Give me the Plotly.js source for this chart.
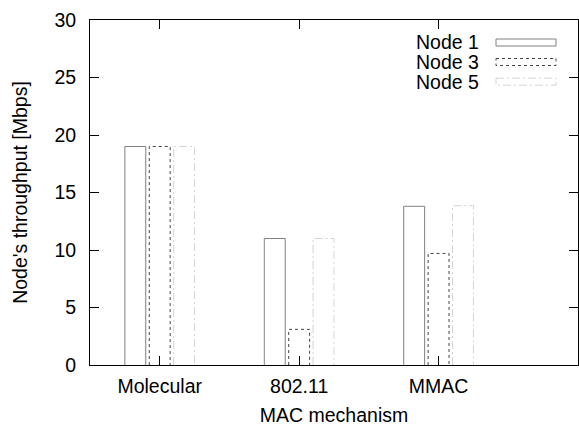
<!DOCTYPE html>
<html>
<head>
<meta charset="utf-8">
<script src="https://cdn.plot.ly/plotly-3.0.1.min.js"></script>
<style>html,body{margin:0;padding:0;background:#fff;}#chart{width:579px;height:426px;}</style>
</head>
<body>
<div id="chart"></div>
<script>
// Data
var categories = ["Molecular", "802.11", "MMAC"];
var seriesNames = ["Node 1", "Node 3", "Node 5"];
var node1 = [19.0, 11.0, 13.8];
var node3 = [19.0, 3.1, 9.7];
var node5 = [19.0, 11.0, 13.85];
var yTicks = [0, 5, 10, 15, 20, 25, 30];

// Styles
var series = [node1, node3, node5];
var colors = ["#808080", "#444444", "#d4d4d4"];
var dashes = ["solid", "3px,3px", "8px,3px,2px,3px"];
var offsets = [-0.25, -0.075, 0.10];
var barW = 0.15;
var FS = 19.5;

function outline(vals, off) {
  var xs = [], ys = [];
  for (var i = 0; i < vals.length; i++) {
    var x0 = i + off, x1 = i + off + barW;
    xs.push(x0, x0, x1, x1, null);
    ys.push(0, vals[i], vals[i], 0, null);
  }
  return {x: xs, y: ys};
}

var traces = series.map(function (vals, k) {
  var o = outline(vals, offsets[k]);
  return {
    type: "scatter", mode: "lines", x: o.x, y: o.y, name: seriesNames[k],
    line: {color: colors[k], width: 1, dash: dashes[k]},
    connectgaps: false, hoverinfo: "skip", showlegend: false
  };
});

// Legend (gnuplot style: text then sample box)
var L = 90, W = 488, B = 365, H = 345;
function px(x) { return (x - L) / W; }
function py(y) { return (B - y) / H; }
var legY = [42.5, 62, 81.7];
var shapes = [], annotations = [];
seriesNames.forEach(function (n, k) {
  shapes.push({type: "rect", xref: "paper", yref: "paper",
    x0: px(496), x1: px(556), y0: py(legY[k] - 3.5), y1: py(legY[k] + 3.5),
    line: {color: colors[k], width: 1, dash: dashes[k]}, fillcolor: "rgba(0,0,0,0)"});
  annotations.push({xref: "paper", yref: "paper", x: px(481), y: py(legY[k]),
    xanchor: "right", yanchor: "middle", text: n, showarrow: false,
    font: {size: FS, color: "#000"}});
});

var layout = {
  width: 579, height: 426,
  margin: {l: 90, r: 1, t: 20, b: 61, pad: 0},
  paper_bgcolor: "#fff", plot_bgcolor: "#fff",
  font: {family: "Liberation Sans, Arial, sans-serif", size: FS, color: "#000"},
  showlegend: false,
  xaxis: {
    range: [-0.5, 3.0], tickmode: "array", tickvals: [0, 1, 2], ticktext: categories,
    ticks: "inside", ticklen: 9, tickwidth: 1, tickcolor: "#000",
    showline: true, linecolor: "#000", linewidth: 1, mirror: "ticks",
    showgrid: false, zeroline: false, automargin: false, ticklabelstandoff: 4,
    title: {text: "MAC mechanism", font: {size: FS}, standoff: 12}
  },
  yaxis: {
    range: [0, 30], tickmode: "array", tickvals: yTicks, ticktext: yTicks.map(String),
    ticks: "inside", ticklen: 9, tickwidth: 1, tickcolor: "#000",
    showline: true, linecolor: "#000", linewidth: 1, mirror: "ticks",
    showgrid: false, zeroline: false, ticklabelstandoff: 9, automargin: false,
    title: {text: "Node's throughput [Mbps]", font: {size: FS}, standoff: 21}
  },
  shapes: shapes,
  annotations: annotations
};

Plotly.newPlot("chart", traces, layout, {displayModeBar: false, staticPlot: true});
</script>
</body>
</html>
